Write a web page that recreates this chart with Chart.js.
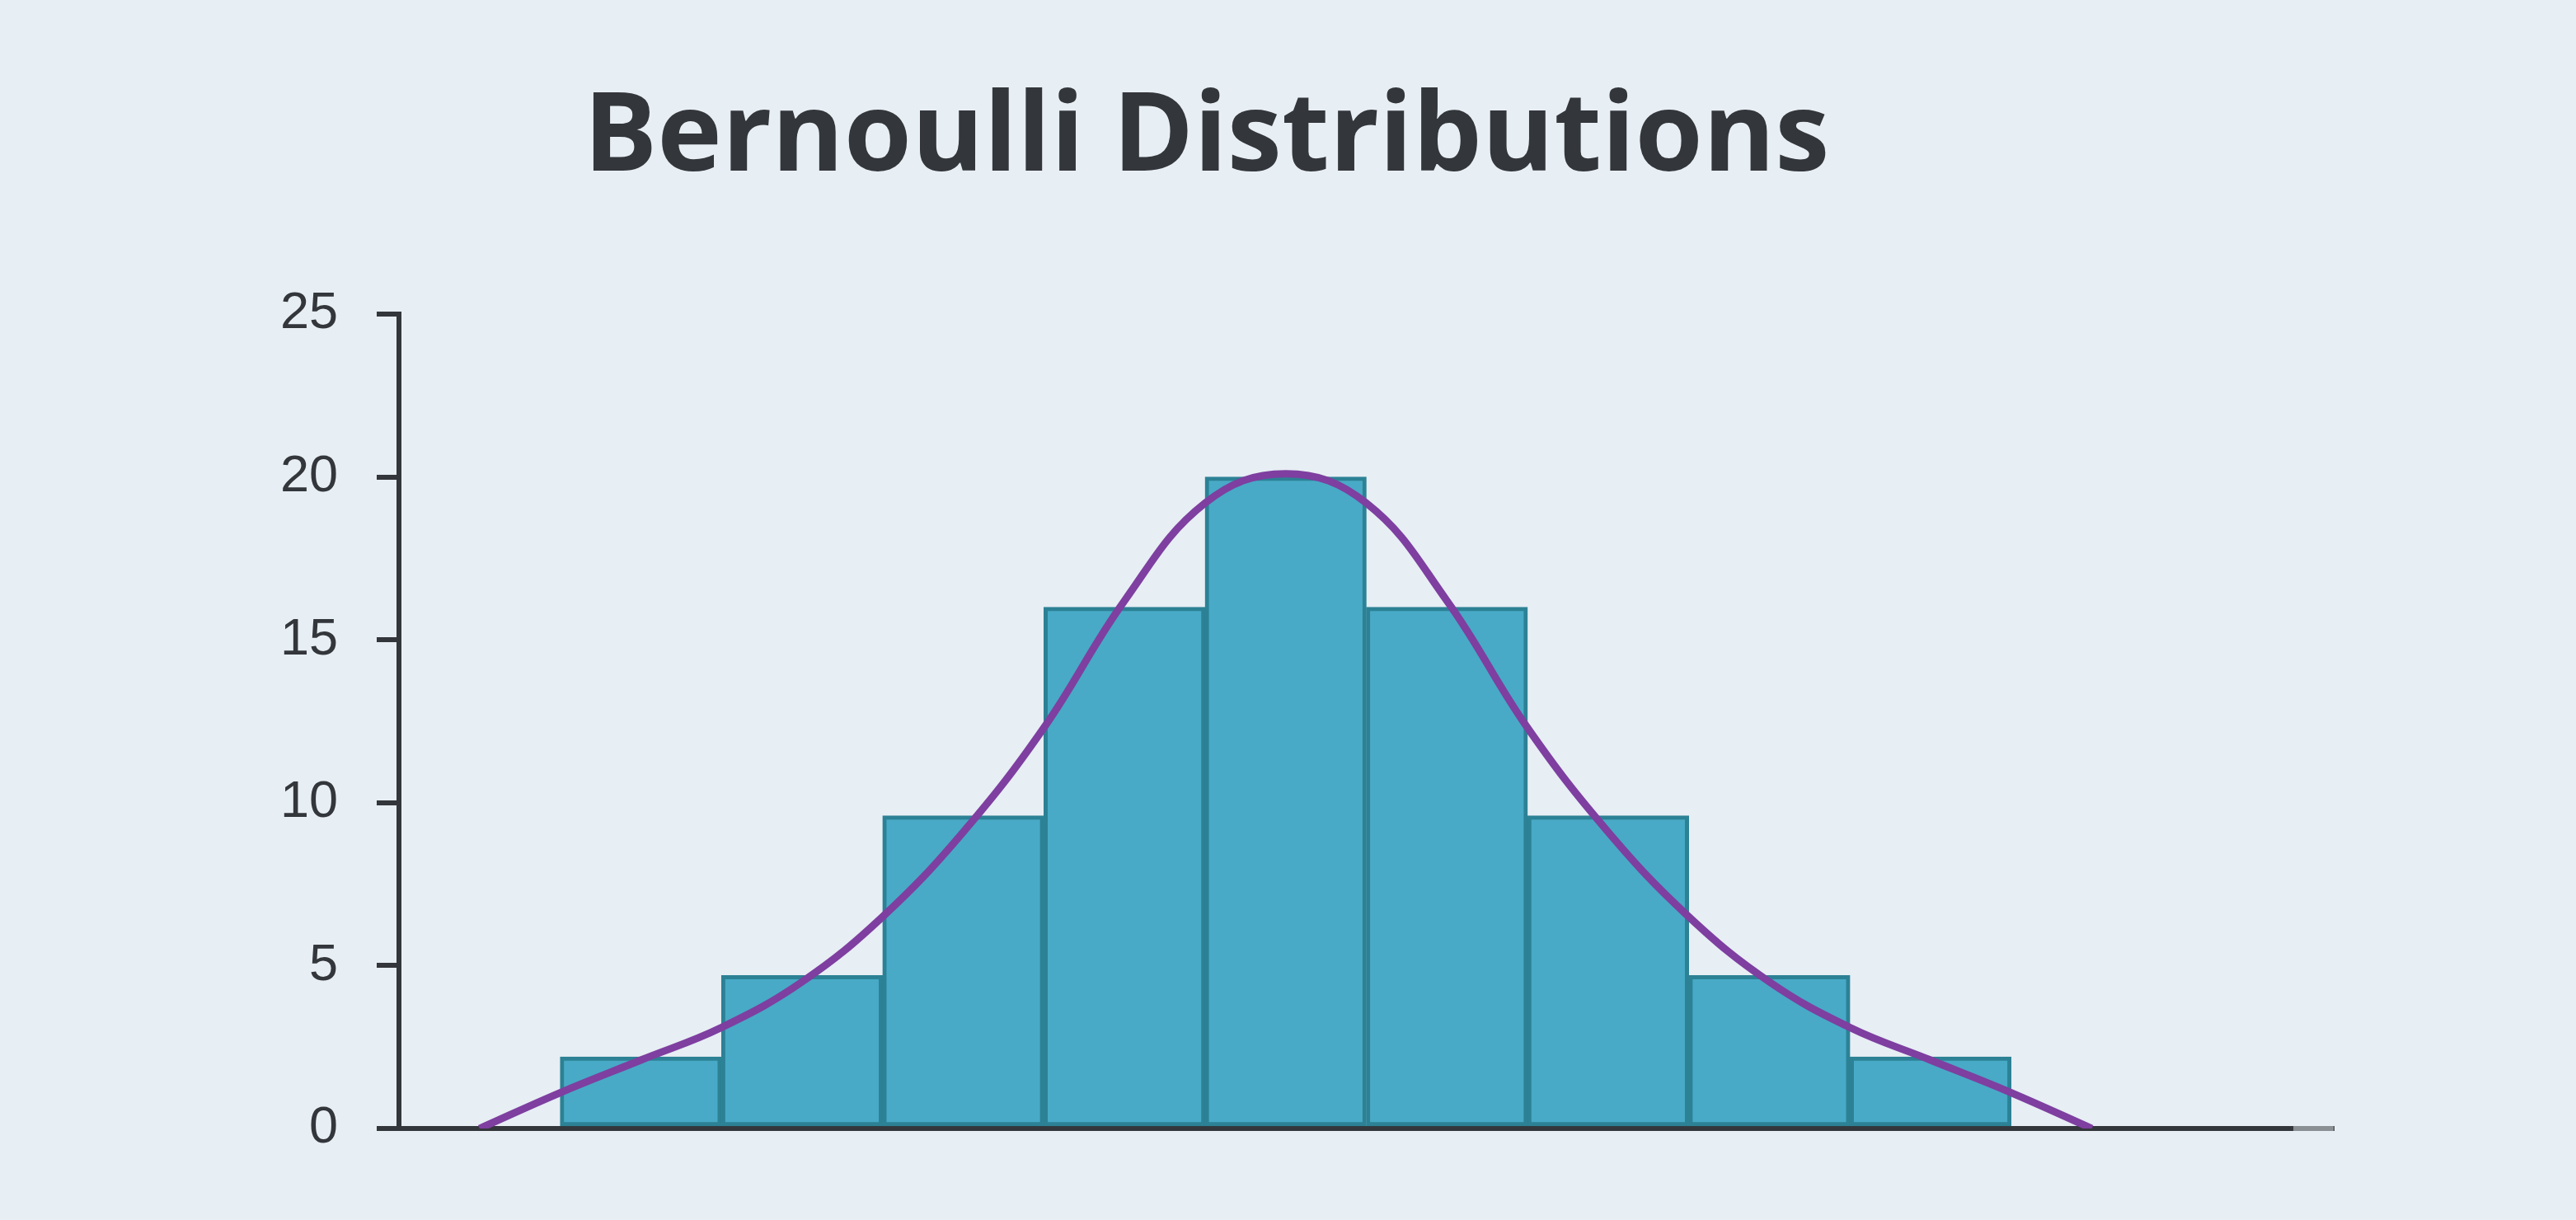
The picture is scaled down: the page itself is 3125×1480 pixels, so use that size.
<!DOCTYPE html>
<html>
<head>
<meta charset="utf-8">
<script src="https://cdn.jsdelivr.net/npm/chart.js@4/dist/chart.umd.min.js"></script>
<style>
  html, body { margin: 0; padding: 0; background: #E7EEF4; }
  #wrap { position: relative; width: 3125px; height: 1480px; background: #E7EEF4; overflow: hidden; }
  #title { position: absolute; left: 708px; top: 89px; margin: 0; font-family: "Open Sans", "Noto Sans", sans-serif; font-weight: 700; font-size: 133px; line-height: 1; color: #33363B; white-space: nowrap; }
  canvas { position: absolute; left: 0; top: 0; }
</style>
</head>
<body>
<div id="wrap">
  <h1 id="title">Bernoulli Distributions</h1>
  <canvas id="c" width="3125" height="1480"></canvas>
</div>
<script>
// Histogram bars (bin centres and heights)
const binCenters = [1, 2, 3, 4, 5, 6, 7, 8, 9];
const binHeights = [2.2, 4.7, 9.6, 16, 20, 16, 9.6, 4.7, 2.2];

// Fitted curve points
const curveX = [0, 0.5, 1, 1.5, 2, 2.5, 3, 3.5, 4, 4.5, 5, 5.5, 6, 6.5, 7, 7.5, 8, 8.5, 9, 9.5, 10];
const curveY = [0, 1.1, 2.1, 3.1, 4.5, 6.5, 9.1, 12.3, 16.2, 19.2, 20.1, 19.2, 16.2, 12.3, 9.1, 6.5, 4.5, 3.1, 2.1, 1.1, 0];

// Axis ticks
const yTicks = [0, 5, 10, 15, 20, 25];
const xRange = [-0.5, 11.5];
const axisFadeStart = 11.25;

const barData = binCenters.map((x, i) => ({ x: x, y: binHeights[i] }));
const curveData = curveX.map((x, i) => ({ x: x, y: curveY[i] }));

const axisTail = {
  id: 'axisTail',
  afterDraw(chart) {
    const xs = chart.scales.x;
    const ca = chart.chartArea;
    const ctx = chart.ctx;
    ctx.save();
    ctx.strokeStyle = '#8A8F93';
    ctx.lineWidth = 6;
    ctx.beginPath();
    ctx.moveTo(xs.getPixelForValue(axisFadeStart), ca.bottom);
    ctx.lineTo(xs.getPixelForValue(xRange[1]), ca.bottom);
    ctx.stroke();
    ctx.restore();
  }
};

new Chart(document.getElementById('c'), {
  data: {
    datasets: [
      {
        type: 'line',
        data: curveData,
        borderColor: '#7E3FA0',
        borderWidth: 9,
        pointRadius: 0,
        fill: false,
        tension: 0.4,
        order: 0
      },
      {
        type: 'bar',
        data: barData,
        backgroundColor: '#48AAC6',
        borderColor: '#2C8195',
        borderWidth: 5,
        borderSkipped: false,
        barPercentage: 1,
        categoryPercentage: 1,
        order: 1
      }
    ]
  },
  options: {
    responsive: false,
    animation: false,
    devicePixelRatio: 1,
    layout: { padding: { left: 0, top: 381, right: 294, bottom: 103 } },
    plugins: { legend: { display: false }, tooltip: { enabled: false }, title: { display: false } },
    scales: {
      x: {
        type: 'linear',
        offset: false,
        min: xRange[0],
        max: xRange[1],
        afterBuildTicks(scale) { scale.ticks = binCenters.map(v => ({ value: v })); },
        grid: { display: false, offset: false },
        ticks: { display: false },
        border: { display: true, color: '#33363B', width: 6 }
      },
      y: {
        min: yTicks[0],
        max: yTicks[yTicks.length - 1],
        afterBuildTicks(scale) { scale.ticks = yTicks.map(v => ({ value: v })); },
        afterFit(scale) { scale.width = 484; },
        grid: { display: true, drawOnChartArea: false, drawTicks: true, tickLength: 27, tickWidth: 6, tickColor: '#33363B', lineWidth: 6 },
        border: { display: true, color: '#33363B', width: 6 },
        ticks: {
          padding: 47,
          color: '#33363B',
          font: { family: '"Liberation Sans", Arial, sans-serif', size: 63 }
        }
      }
    }
  },
  plugins: [axisTail]
});
</script>
</body>
</html>
